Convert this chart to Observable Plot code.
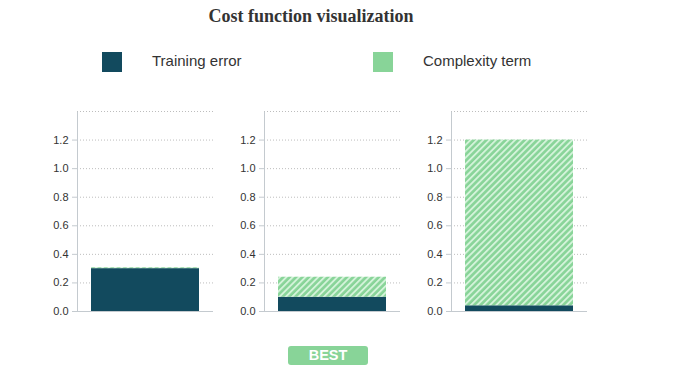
<!DOCTYPE html>
<html><head><meta charset="utf-8">
<script src="https://cdn.jsdelivr.net/npm/d3@7"></script>
<script src="https://cdn.jsdelivr.net/npm/@observablehq/plot@0.6"></script>
<style>
body{margin:0;background:#fff;}
#root{position:relative;width:673px;height:381px;overflow:hidden;font-family:"Liberation Sans",Arial,sans-serif;color:#333;}
.title{position:absolute;left:0;width:622px;top:5px;text-align:center;font-family:"Liberation Serif",serif;font-weight:bold;font-size:18px;line-height:22px;color:#333;}
.sw{position:absolute;top:52px;width:20px;height:20px;}
.lt{position:absolute;top:51px;font-size:15px;line-height:20px;color:#333;white-space:nowrap;}
.panel{position:absolute;top:100px;}
.best{position:absolute;left:288px;top:346px;width:80px;height:19px;border-radius:3px;background:#88d498;color:#fff;font-weight:bold;font-size:14.5px;line-height:19px;text-align:center;}
</style></head>
<body>
<svg width="0" height="0" style="position:absolute">
  <defs>
    <pattern id="hatch" patternUnits="userSpaceOnUse" width="4.5" height="4.5" patternTransform="rotate(45)">
      <rect width="4.5" height="4.5" fill="#88d498"></rect>
      <rect width="1.9" height="4.5" fill="#d4f3da"></rect>
    </pattern>
  </defs>
</svg>
<div id="root"></div>
<script>
const titleText = "Cost function visualization";
const panels = ["Model 1", "Model 2", "Model 3"];
const seriesNames = ["Training error", "Complexity term"];
const trainingError = [0.30, 0.10, 0.04];
const complexityTerm = [0.006, 0.14, 1.16];
const yTicks = [0, 0.2, 0.4, 0.6, 0.8, 1.0, 1.2];
const gridTicks = [0.2, 0.4, 0.6, 0.8, 1.0, 1.2, 1.4];
const yMax = 1.4;
const bestLabel = "BEST";
const bestIndex = 1;
const seriesFills = ["#124a5e", "url(#hatch)"];
const legendSwatches = ["#124a5e", "#88d498"];

const root = document.getElementById("root");

const t = document.createElement("div");
t.className = "title";
t.textContent = titleText;
root.appendChild(t);

const legendX = [102, 373];
seriesNames.forEach((s, i) => {
  const sw = document.createElement("div");
  sw.className = "sw";
  sw.style.left = legendX[i] + "px";
  sw.style.background = legendSwatches[i];
  root.appendChild(sw);
  const lt = document.createElement("div");
  lt.className = "lt";
  lt.style.left = (legendX[i] + 50) + "px";
  lt.textContent = s;
  root.appendChild(lt);
});

const W = 190, H = 225, mL = 50, mR = 4, mT = 11, mB = 14;
const fw = W - mL - mR, fh = H - mT - mB;

panels.forEach((p, i) => {
  const rows = [
    {panel: p, series: seriesNames[0], value: trainingError[i]},
    {panel: p, series: seriesNames[1], value: complexityTerm[i]}
  ];
  const chart = Plot.plot({
    width: W, height: H,
    marginLeft: mL, marginRight: mR, marginTop: mT, marginBottom: mB,
    style: {fontFamily: "Liberation Sans, Arial, sans-serif", fontSize: "11px", color: "#333", background: "transparent", overflow: "visible"},
    x: {domain: [p], padding: 0, axis: null},
    y: {domain: [0, yMax], axis: null},
    color: {domain: seriesNames, range: seriesFills},
    marks: [
      Plot.gridY(gridTicks, {stroke: "#bdbdbd", strokeOpacity: 1, strokeDasharray: "1,2"}),
      Plot.barY(rows, Plot.stackY({x: "panel", y: "value", fill: "series", order: seriesNames, insetLeft: 14, insetRight: 14})),
      // left edge only of the frame
      Plot.frame({stroke: "#c4cacf", strokeOpacity: 1, strokeDasharray: `0,${2 * fw + fh},${fh}`}),
      Plot.ruleY([0], {stroke: "#c4cacf"}),
      Plot.axisY(yTicks, {label: null, tickFormat: d3.format(".1f"), tickSize: 5, tickPadding: 4, stroke: "#c4cacf", fill: "#333"})
    ]
  });
  const wrap = document.createElement("div");
  wrap.className = "panel";
  wrap.style.left = (27 + i * 187) + "px";
  wrap.appendChild(chart);
  root.appendChild(wrap);
});

const b = document.createElement("div");
b.className = "best";
b.textContent = bestLabel;
root.appendChild(b);
</script>
</body></html>
